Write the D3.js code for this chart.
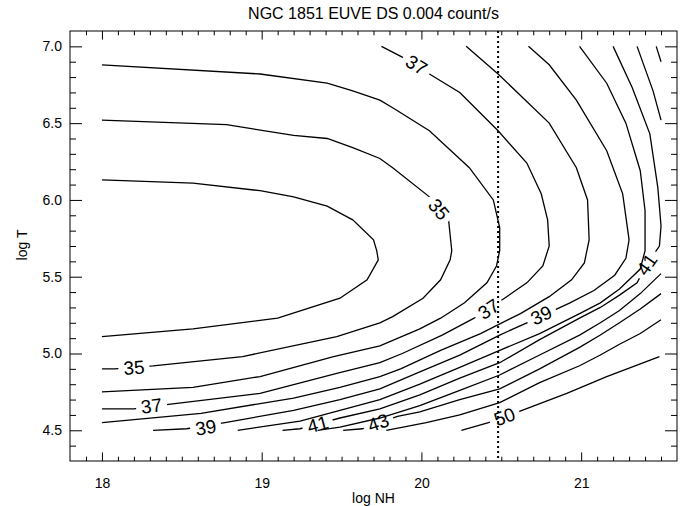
<!DOCTYPE html>
<html>
<head>
<meta charset="utf-8">
<script src="https://cdn.jsdelivr.net/npm/d3@7"></script>
<style>
body { margin: 0; background: #fff; }
svg text { font-family: "Liberation Sans", Arial, sans-serif; fill: #000; }
</style>
</head>
<body>
<div id="chart"></div>
<script>
// contour paths, as [log NH, log T]
var c34 = [[18.00,6.13],[18.57,6.11],[18.99,6.06],[19.20,6.02],[19.41,5.96],[19.57,5.87],[19.70,5.74],[19.72,5.67],[19.73,5.61],[19.66,5.48],[19.49,5.36],[19.10,5.23],[18.57,5.16],[18.00,5.11]];
var c35 = [[18.00,6.52],[18.78,6.49],[19.20,6.42],[19.41,6.40],[19.57,6.34],[19.74,6.27],[19.82,6.21],[20.05,6.02],[20.17,5.87],[20.19,5.67],[20.18,5.61],[20.12,5.48],[20.01,5.36],[19.82,5.24],[19.74,5.20],[19.47,5.11],[18.88,4.98],[18.32,4.92],[18.08,4.90],[18.00,4.90]];
var c36 = [[18.00,6.88],[18.99,6.82],[19.41,6.76],[19.57,6.71],[19.74,6.65],[19.82,6.60],[20.05,6.45],[20.30,6.21],[20.45,6.00],[20.49,5.82],[20.49,5.67],[20.47,5.57],[20.41,5.46],[20.27,5.33],[20.12,5.23],[19.99,5.16],[19.74,5.05],[19.45,4.98],[18.99,4.85],[18.57,4.78],[18.00,4.75]];
var c37 = [[19.75,7.00],[19.88,6.93],[20.05,6.82],[20.24,6.70],[20.48,6.45],[20.66,6.24],[20.75,6.04],[20.79,5.87],[20.80,5.70],[20.76,5.57],[20.66,5.46],[20.52,5.36],[20.33,5.23],[20.13,5.12],[19.88,5.00],[19.74,4.94],[19.47,4.87],[18.99,4.74],[18.43,4.67],[18.20,4.64],[18.00,4.64]];
var c38 = [[20.28,7.00],[20.48,6.82],[20.63,6.67],[20.80,6.50],[20.97,6.21],[21.04,6.00],[21.05,5.74],[21.02,5.59],[20.94,5.48],[20.80,5.37],[20.62,5.26],[20.37,5.13],[20.12,5.02],[19.87,4.90],[19.74,4.85],[19.49,4.78],[19.20,4.71],[18.62,4.61],[18.00,4.55]];
var c39 = [[20.67,7.00],[20.80,6.88],[20.97,6.65],[21.16,6.32],[21.26,6.04],[21.30,5.74],[21.28,5.62],[21.21,5.51],[21.08,5.41],[20.93,5.33],[20.66,5.20],[20.49,5.12],[20.24,4.99],[19.99,4.88],[19.74,4.77],[19.49,4.70],[19.20,4.63],[18.77,4.55],[18.53,4.51],[18.32,4.50]];
var c40 = [[20.99,7.00],[21.16,6.76],[21.28,6.50],[21.37,6.19],[21.40,5.93],[21.40,5.67],[21.37,5.55],[21.24,5.42],[21.12,5.33],[20.99,5.26],[20.74,5.13],[20.49,5.02],[20.24,4.91],[19.99,4.80],[19.74,4.70],[19.49,4.63],[19.24,4.56],[18.85,4.50]];
var c41 = [[21.20,7.00],[21.32,6.73],[21.43,6.43],[21.48,6.08],[21.50,5.83],[21.49,5.70],[21.41,5.58],[21.35,5.46],[21.24,5.38],[21.12,5.30],[20.99,5.23],[20.74,5.09],[20.49,4.94],[20.24,4.84],[19.99,4.73],[19.74,4.64],[19.49,4.58],[19.24,4.51],[19.13,4.50]];
var c42top = [[21.35,7.00],[21.45,6.71],[21.50,6.52]];
var c42low = [[21.50,5.52],[21.37,5.39],[21.24,5.28],[21.12,5.20],[20.99,5.12],[20.74,4.99],[20.49,4.86],[20.24,4.76],[19.99,4.66],[19.74,4.58],[19.49,4.52],[19.35,4.50]];
var c43top = [[21.47,7.00],[21.50,6.90]];
var c43low = [[21.50,5.39],[21.37,5.29],[21.24,5.20],[21.12,5.12],[20.99,5.04],[20.74,4.90],[20.49,4.77],[20.24,4.70],[19.99,4.62],[19.85,4.59],[19.63,4.51],[19.51,4.50]];
var c44 = [[21.50,5.22],[21.37,5.13],[21.24,5.06],[21.12,4.99],[20.99,4.92],[20.74,4.81],[20.49,4.68],[20.24,4.60],[20.03,4.55],[19.78,4.50]];
var c50 = [[21.49,4.98],[21.16,4.85],[20.91,4.74],[20.63,4.63],[20.42,4.55],[20.25,4.50]];

var segLevel = [34,35,36,37,38,39,40,41,42,42,43,43,44,50];
var segPts = [c34,c35,c36,c37,c38,c39,c40,c41,c42top,c42low,c43top,c43low,c44,c50];

// in-line contour labels: text, segment index, position
var labelText = ["35","35","37","37","37","39","39","41","41","43","50"];
var labelSeg  = [1,1,3,3,3,5,5,7,7,11,13];
var labelNH   = [20.11,18.20,19.97,20.42,18.31,20.75,18.65,21.41,19.35,19.73,20.52];
var labelT    = [5.94,4.91,6.88,5.29,4.66,5.25,4.52,5.58,4.54,4.55,4.59];

var xTicks = [18,19,20,21];
var yTicks = [4.5,5.0,5.5,6.0,6.5,7.0];
var cutNH = 20.48;   // dotted marker

var W = 683, H = 506;
var x = d3.scaleLinear().domain([17.8,21.6]).range([70,677]);
var y = d3.scaleLinear().domain([4.3,7.1]).range([461,31]);

var svg = d3.select("#chart").append("svg").attr("width",W).attr("height",H);
var defs = svg.append("defs");

// title
svg.append("text").attr("x",(70+677)/2).attr("y",19).attr("text-anchor","middle")
  .style("font-size","16px").text("NGC 1851 EUVE DS 0.004 count/s");

// minor ticks
var xMinor = d3.range(179,216).filter(k=>k%10!==0).map(k=>k/10);
var yMinor = d3.range(44,71).filter(k=>k%5!==0).map(k=>k/10);

function axisStyle(g){
  g.select(".domain").remove();
  g.selectAll("line").attr("stroke","#000");
  g.selectAll("text").style("font-size","14px").attr("fill","#000");
}
svg.append("g").attr("transform","translate(0,461)")
  .call(d3.axisBottom(x).tickValues(xTicks).tickSize(-8.6).tickPadding(17).tickFormat(d3.format("d"))).call(axisStyle);
svg.append("g").attr("transform","translate(0,461)")
  .call(d3.axisBottom(x).tickValues(xMinor).tickSize(-4.3).tickFormat("")).call(axisStyle);
svg.append("g").attr("transform","translate(0,31)")
  .call(d3.axisTop(x).tickValues(xTicks).tickSize(-8.6).tickFormat("")).call(axisStyle);
svg.append("g").attr("transform","translate(0,31)")
  .call(d3.axisTop(x).tickValues(xMinor).tickSize(-4.3).tickFormat("")).call(axisStyle);
svg.append("g").attr("transform","translate(70,0)")
  .call(d3.axisLeft(y).tickValues(yTicks).tickSize(-12).tickPadding(8).tickFormat(d3.format(".1f"))).call(axisStyle);
svg.append("g").attr("transform","translate(70,0)")
  .call(d3.axisLeft(y).tickValues(yMinor).tickSize(-6).tickFormat("")).call(axisStyle);
svg.append("g").attr("transform","translate(677,0)")
  .call(d3.axisRight(y).tickValues(yTicks).tickSize(-12).tickFormat("")).call(axisStyle);
svg.append("g").attr("transform","translate(677,0)")
  .call(d3.axisRight(y).tickValues(yMinor).tickSize(-6).tickFormat("")).call(axisStyle);

svg.append("rect").attr("x",70).attr("y",31).attr("width",607).attr("height",430)
  .attr("fill","none").attr("stroke","#000").attr("stroke-width",1);

// axis titles
svg.append("text").attr("x",(70+677)/2).attr("y",503).attr("text-anchor","middle")
  .style("font-size","14px").text("log NH");
svg.append("text").attr("transform","translate(27,245) rotate(-90)").attr("text-anchor","middle")
  .style("font-size","14px").text("log T");

// label angle follows the nearest segment of its contour
function labelAngle(pts, px, py){
  var sp = pts.map(d=>[x(d[0]),y(d[1])]);
  var best = 0, bd = Infinity;
  for (var i=0;i<sp.length-1;i++){
    var ax=sp[i][0], ay=sp[i][1], bx=sp[i+1][0], by=sp[i+1][1];
    var dx=bx-ax, dy=by-ay, L=dx*dx+dy*dy;
    var t = L ? Math.max(0,Math.min(1,((px-ax)*dx+(py-ay)*dy)/L)) : 0;
    var ex=ax+t*dx-px, ey=ay+t*dy-py, dd=ex*ex+ey*ey;
    if (dd<bd){ bd=dd; best=i; }
  }
  var a = Math.atan2(sp[best+1][1]-sp[best][1], sp[best+1][0]-sp[best][0])*180/Math.PI;
  if (a>90) a-=180;
  if (a<-90) a+=180;
  return a;
}

var labels = labelText.map((t,i)=>{
  var px = x(labelNH[i]), py = y(labelT[i]);
  return {text:t, seg:labelSeg[i], px:px, py:py, ang:labelAngle(segPts[labelSeg[i]],px,py)};
});

var lbl = svg.append("g").selectAll("text").data(labels).join("text")
  .attr("transform",d=>`translate(${d.px},${d.py}) rotate(${d.ang})`)
  .attr("text-anchor","middle").attr("dy","0.36em")
  .style("font-size","19px").text(d=>d.text);
lbl.each(function(d){ d.w = this.getComputedTextLength(); });

// masks cut a gap in each labelled contour
segPts.forEach((pts,i)=>{
  var mine = labels.filter(l=>l.seg===i);
  if (!mine.length) return;
  var m = defs.append("mask").attr("id","gap"+i).attr("maskUnits","userSpaceOnUse")
    .attr("x",0).attr("y",0).attr("width",W).attr("height",H);
  m.append("rect").attr("width",W).attr("height",H).attr("fill","#fff");
  mine.forEach(l=>{
    m.append("rect").attr("x",-l.w/2-5).attr("y",-9).attr("width",l.w+10).attr("height",18)
      .attr("fill","#000").attr("transform",`translate(${l.px},${l.py}) rotate(${l.ang})`);
  });
});

var line = d3.line().x(d=>x(d[0])).y(d=>y(d[1]));
svg.append("g").selectAll("path").data(segPts).join("path")
  .attr("d",line).attr("fill","none").attr("stroke","#000").attr("stroke-width",1.3)
  .attr("mask",(d,i)=>labels.some(l=>l.seg===i) ? `url(#gap${i})` : null);

// dotted marker at log NH = 20.48
svg.append("line").attr("x1",x(cutNH)).attr("x2",x(cutNH)).attr("y1",y(7.1)).attr("y2",y(4.3))
  .attr("stroke","#000").attr("stroke-width",2).attr("stroke-dasharray","2 3");
</script>
</body>
</html>
